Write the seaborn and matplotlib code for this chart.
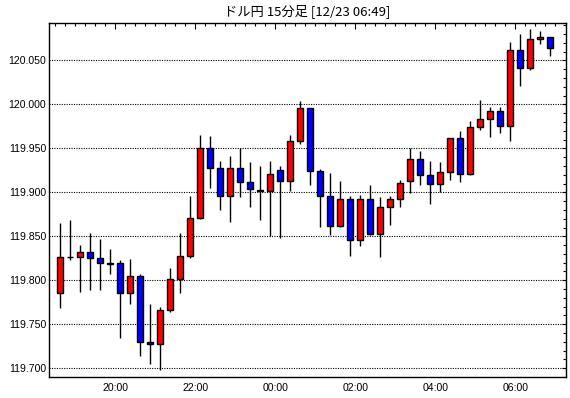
import numpy as np
import pandas as pd
import matplotlib
matplotlib.use("Agg")
import matplotlib.pyplot as plt
from matplotlib.ticker import FixedLocator, FixedFormatter
import seaborn as sns

# ---- data (USD/JPY 15-minute candles) ----
times = ["18:30", "18:45", "19:00", "19:15", "19:30", "19:45", "20:00", "20:15", "20:30", "20:45",
         "21:00", "21:15", "21:30", "21:45", "22:00", "22:15", "22:30", "22:45", "23:00", "23:15",
         "23:30", "23:45", "00:00", "00:15", "00:30", "00:45", "01:00", "01:15", "01:30", "01:45",
         "02:00", "02:15", "02:30", "02:45", "03:00", "03:15", "03:30", "03:45", "04:00", "04:15",
         "04:30", "04:45", "05:00", "05:15", "05:30", "05:45", "06:00", "06:15", "06:30", "06:45"]
opens = [119.785, 119.827, 119.827, 119.832, 119.825, 119.820, 119.820, 119.785, 119.805, 119.730,
         119.727, 119.766, 119.802, 119.828, 119.871, 119.950, 119.928, 119.896, 119.928, 119.912,
         119.903, 119.902, 119.926, 119.913, 119.958, 119.996, 119.924, 119.896, 119.862, 119.893,
         119.846, 119.892, 119.853, 119.883, 119.892, 119.913, 119.938, 119.920, 119.910, 119.923,
         119.962, 119.921, 119.974, 119.983, 119.993, 119.975, 120.062, 120.041, 120.075, 120.077]
highs = [119.865, 119.868, 119.840, 119.854, 119.847, 119.836, 119.823, 119.824, 119.807, 119.773,
         119.770, 119.814, 119.854, 119.896, 119.965, 119.964, 119.936, 119.941, 119.950, 119.934,
         119.930, 119.936, 119.930, 119.965, 120.004, 119.996, 119.927, 119.922, 119.913, 119.896,
         119.897, 119.908, 119.895, 119.896, 119.914, 119.950, 119.947, 119.936, 119.934, 119.962,
         119.970, 119.981, 120.005, 119.997, 119.997, 120.071, 120.080, 120.086, 120.083, 120.077]
lows = [119.769, 119.823, 119.787, 119.789, 119.789, 119.807, 119.734, 119.773, 119.714, 119.705,
        119.698, 119.764, 119.786, 119.825, 119.870, 119.905, 119.880, 119.866, 119.895, 119.883,
        119.868, 119.850, 119.848, 119.902, 119.955, 119.908, 119.861, 119.852, 119.861, 119.828,
        119.839, 119.852, 119.826, 119.863, 119.883, 119.899, 119.908, 119.887, 119.900, 119.914,
        119.912, 119.920, 119.971, 119.963, 119.968, 119.958, 120.021, 120.039, 120.069, 120.055]
closes = [119.827, 119.827, 119.832, 119.825, 119.820, 119.819, 119.785, 119.805, 119.730, 119.727,
          119.766, 119.802, 119.828, 119.871, 119.950, 119.928, 119.896, 119.928, 119.912, 119.904,
          119.902, 119.921, 119.913, 119.958, 119.996, 119.924, 119.896, 119.862, 119.893, 119.846,
          119.893, 119.853, 119.883, 119.892, 119.911, 119.938, 119.920, 119.910, 119.923, 119.962,
          119.921, 119.974, 119.983, 119.993, 119.975, 120.062, 120.041, 120.075, 120.077, 120.064]
title_text = "ドル円 15分足 [12/23 06:49]"
label_hours = ["20:00", "22:00", "00:00", "02:00", "04:00", "06:00"]

df = pd.DataFrame({"time": times, "open": opens, "high": highs, "low": lows, "close": closes})
df["pos"] = np.arange(len(df))

sns.set_theme(style="white")
plt.rcParams["font.family"] = ["Liberation Sans", "Noto Sans CJK JP", "DejaVu Sans"]

fig = plt.figure(figsize=(5.70, 3.98), dpi=100)
ax = fig.add_axes([49 / 570, 1 - 377 / 398, (565.7 - 49) / 570, (377 - 22.5) / 398])

# dotted horizontal grid
for v in np.arange(119.70, 120.051, 0.05):
    ax.axhline(v, color="black", lw=0.8, ls=(0, (1, 1.2)), zorder=1)

# wicks
ax.vlines(df["pos"], df["low"], df["high"], color="black", lw=1.0, zorder=2)

# bodies
def body_color(o, c):
    if c > o:
        return "#ff0000"
    if c < o:
        return "#0000ff"
    return "white"

colors = [body_color(o, c) for o, c in zip(df["open"], df["close"])]
bottoms = np.minimum(df["open"], df["close"])
heights = np.abs(df["close"] - df["open"])
ax.bar(df["pos"], heights, bottom=bottoms, width=0.62, color=colors,
       edgecolor="black", linewidth=1.0, zorder=3)

ax.set_xlim(-1.13, len(df) - 1 + 1.54)
ax.set_ylim(119.690, 120.0932)

# y ticks
ax.yaxis.set_major_locator(FixedLocator(np.round(np.arange(119.70, 120.051, 0.05), 3)))
ax.yaxis.set_major_formatter(matplotlib.ticker.FormatStrFormatter("%.3f"))
ax.yaxis.set_minor_locator(FixedLocator(np.round(np.arange(119.69, 120.091, 0.01), 3)))

# x ticks at candle boundaries
bounds = df["pos"] - 0.5
major_pos = [b for b, t in zip(bounds, df["time"]) if t in label_hours]
major_lab = [t for t in df["time"] if t in label_hours]
ax.xaxis.set_major_locator(FixedLocator(major_pos))
ax.xaxis.set_major_formatter(FixedFormatter(major_lab))
ax.xaxis.set_minor_locator(FixedLocator(list(bounds) + [len(df) - 0.5]))

ax.tick_params(axis="both", which="both", direction="in", top=True, right=True,
               color="black", width=0.8, labelsize=7.6, labelcolor="black")
ax.tick_params(axis="y", which="major", length=3, pad=2)
ax.tick_params(axis="y", which="minor", length=2)
ax.tick_params(axis="x", which="major", length=4, pad=4)
ax.tick_params(axis="x", which="minor", length=2)

for s in ax.spines.values():
    s.set_visible(True)
    s.set_color("black")
    s.set_linewidth(1.0)
ax.set_facecolor("white")
ax.grid(False)
ax.set_xlabel("")
ax.set_ylabel("")

fig.text(307.5 / 570, 1 - 11.5 / 398, title_text, ha="center", va="center",
         fontsize=9.5, family=["Noto Sans CJK JP", "DejaVu Sans"], color="black")

fig.savefig("out.png", dpi=100, facecolor="white")
